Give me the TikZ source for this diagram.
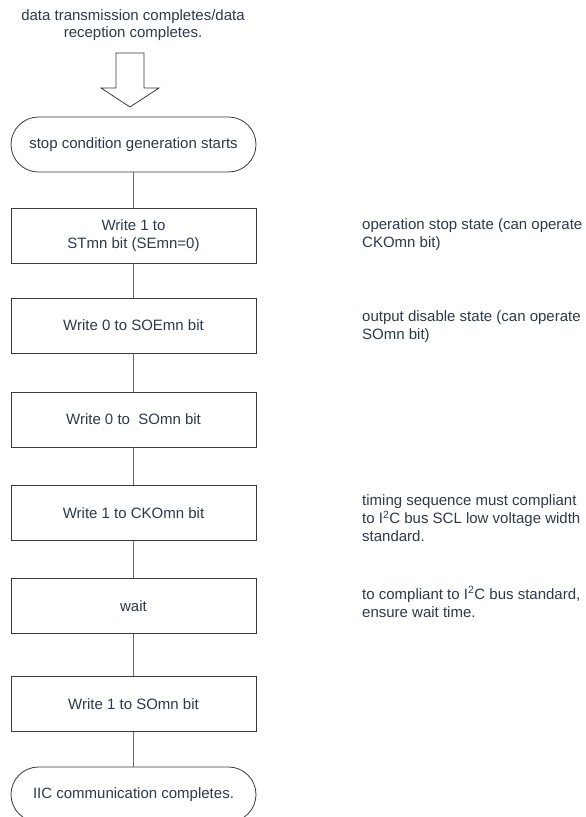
\documentclass[tikz,border=0pt]{standalone}
\usepackage{fontspec}
\setmainfont{Liberation Sans}
\definecolor{txt}{HTML}{2B394B}
\definecolor{bord}{HTML}{3A3A3A}
\definecolor{conn}{HTML}{6A6A6A}
\begin{document}
\begin{tikzpicture}[x=1pt,y=-1pt,
  every node/.style={font=\fontsize{15}{18}\selectfont, text=txt},
  procbox/.style={draw=bord, line width=0.8pt, minimum width=245pt, minimum height=55pt, inner sep=0pt, align=center},
  termbox/.style={draw=bord, line width=0.8pt, rounded corners=27.5pt, minimum width=245pt, minimum height=55pt, inner sep=0pt, align=center},
  note/.style={anchor=west, align=left, inner sep=0pt},
  link/.style={draw=conn, line width=1pt}]
\useasboundingbox (0,0) rectangle (586,817);
\node[align=center, inner sep=0pt, font=\fontsize{15}{17}\selectfont] (title) at (133,25) {data transmission completes/data\\reception completes.};
\draw[bord, line width=0.8pt, fill=white] (116,53) -- (144,53) -- (144,88) -- (159,88) -- (130,107) -- (101,88) -- (116,88) -- cycle;
\node[termbox] (start) at (133.5,144.5) {stop condition generation starts};
\node[procbox] (b1) at (133.5,235.5) {Write 1 to\\STmn bit (SEmn=0)};
\node[procbox] (b2) at (133.5,325.5) {Write 0 to SOEmn bit};
\node[procbox] (b3) at (133.5,419.5) {Write 0 to\ \ SOmn bit};
\node[procbox] (b4) at (133.5,513) {Write 1 to CKOmn bit};
\node[procbox] (b5) at (133.5,606) {wait};
\node[procbox] (b6) at (133.5,704) {Write 1 to SOmn bit};
\node[termbox] (end) at (133.5,794.5) {IIC communication completes.};
\draw[link] (start) -- (b1);
\draw[link] (b1) -- (b2);
\draw[link] (b2) -- (b3);
\draw[link] (b3) -- (b4);
\draw[link] (b4) -- (b5);
\draw[link] (b5) -- (b6);
\draw[link] (b6) -- (end);
\node[note] (n1) at (362,235) {operation stop state (can operate\\CKOmn bit)};
\node[note] (n2) at (362,327) {output disable state (can operate\\SOmn bit)};
\node[note] (n3) at (362,518) {timing sequence must compliant\\to I\textsuperscript{2}C bus SCL low voltage width\\standard.};
\node[note] (n4) at (362,602) {to compliant to I\textsuperscript{2}C bus standard,\\ensure wait time.};
\end{tikzpicture}
\end{document}
